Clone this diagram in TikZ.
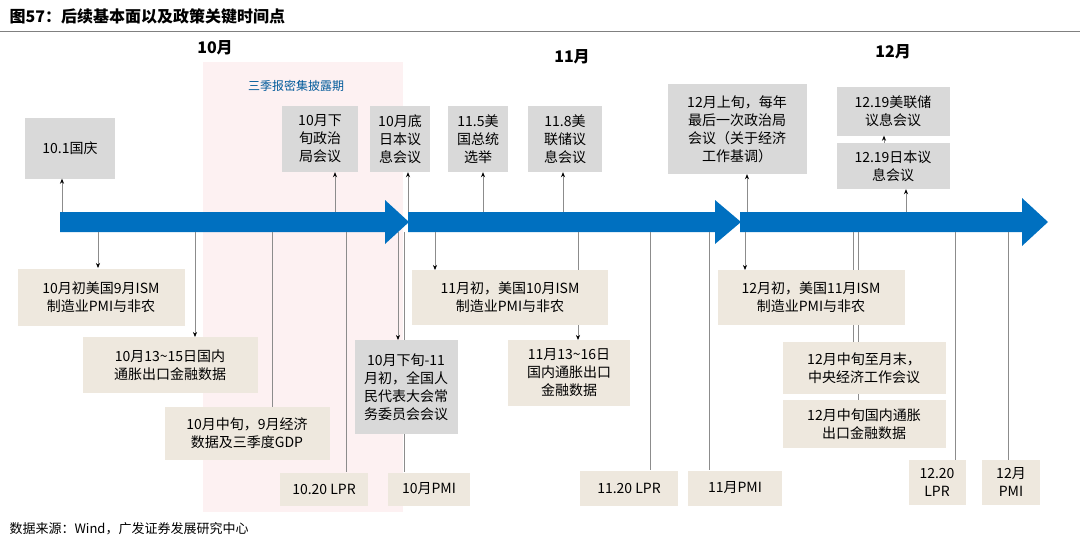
\documentclass[tikz,border=0pt]{standalone}
\usepackage{fontspec}
\setmainfont{Liberation Sans}
\newfontfamily\cjk{Noto Sans CJK SC}
\usetikzlibrary{positioning,arrows.meta}
\definecolor{axisblue}{HTML}{0070C0}
\definecolor{boxgrey}{HTML}{D9D9D9}
\definecolor{boxbeige}{HTML}{EEE8DE}
\definecolor{bandpink}{HTML}{FDF1F2}
\definecolor{linegrey}{HTML}{8C8C8C}
\begin{document}
\begin{tikzpicture}[%
    x=1pt,
    y=-1pt,
    >=stealth,
    ev/.style={%
      fill=boxgrey,
      align=center,
      inner sep=2pt,
      font=\fontsize{14}{18}\selectfont\cjk
    },
    dat/.style={ev, fill=boxbeige},
    link/.style={draw=linegrey, line width=0.6pt},
    tip/.style={link, -{Stealth[black,length=5pt,width=4pt]}}
  ]
    \useasboundingbox (0,0) rectangle (1080,547);
    % title and rule
    \node[anchor=west, font=\fontsize{16}{19}\selectfont\cjk\bfseries] (title) at (6,16) {图57：后续基本面以及政策关键时间点};
    \draw[gray, line width=0.6pt] (0,31) -- (1080,31);
    \node[anchor=west, font=\fontsize{13}{15}\selectfont\cjk] (src) at (6,529) {数据来源：Wind，广发证券发展研究中心};
    % earnings band
    \fill[bandpink] (203,62) rectangle (403,512);
    \node[font=\fontsize{12}{14}\selectfont\cjk, text=axisblue!80!black] (band) at (296,86) {三季报密集披露期};
    % months
    \node[font=\fontsize{16}{19}\selectfont\cjk\bfseries] (m10) at (215,48) {10月};
    \node[font=\fontsize{16}{19}\selectfont\cjk\bfseries] (m11) at (572,57) {11月};
    \node[font=\fontsize{16}{19}\selectfont\cjk\bfseries] (m12) at (893,52) {12月};
    % time axis
    \fill[axisblue] (60,212) -- (385,212) -- (385,200) -- (409,222) -- (385,244) -- (385,232) -- (60,232) -- cycle;
    \fill[axisblue] (408,212) -- (715,212) -- (715,200) -- (741,222) -- (715,244) -- (715,232) -- (408,232) -- cycle;
    \fill[axisblue] (740,212) -- (1022,212) -- (1022,198) -- (1048,222) -- (1022,246) -- (1022,232) -- (740,232) -- cycle;
    \coordinate (top) at (0,212);
    \coordinate (bot) at (0,232);
    % connectors down (drawn first, boxes cover them)
    \draw[tip] (bot -| 98,0) -- (98,268);
    \draw[tip] (bot -| 195,0) -- (195,337);
    \draw[link] (bot -| 272,0) -- (272,407);
    \draw[link] (bot -| 346,0) -- (346,472);
    \draw[tip] (bot -| 398,0) -- (398,340);
    \draw[link] (bot -| 404,0) -- (404,472);
    \draw[tip] (bot -| 435,0) -- (435,270);
    \draw[tip] (bot -| 578,0) -- (578,340);
    \draw[link] (bot -| 650,0) -- (650,470);
    \draw[link] (bot -| 709,0) -- (709,470);
    \draw[tip] (bot -| 745,0) -- (745,270);
    \draw[link] (bot -| 853,0) -- (853,342);
    \draw[link] (bot -| 858,0) -- (858,342);
    \draw[link] (858,394) -- (858,400);
    \draw[link] (bot -| 955,0) -- (955,460);
    \draw[link] (bot -| 1008,0) -- (1008,460);
    % events above
    \node[ev, minimum width=90, minimum height=61] (e1) at (70,148) {10.1国庆};
    \node[ev, minimum width=76, minimum height=66] (e2) at (320,139) {10月下\\旬政治\\局会议};
    \node[ev, minimum width=60, minimum height=66] (e3) at (400,139) {10月底\\日本议\\息会议};
    \node[ev, minimum width=60, minimum height=66] (e4) at (478,139) {11.5美\\国总统\\选举};
    \node[ev, minimum width=74, minimum height=66] (e5) at (565,139) {11.8美\\联储议\\息会议};
    \node[ev, minimum width=139, minimum height=90] (e6) at (737,129) {12月上旬，每年\\最后一次政治局\\会议（关于经济\\工作基调）};
    \node[ev, minimum width=113, minimum height=49] (e7) at (893,111) {12.19美联储\\议息会议};
    \node[ev, minimum width=113, minimum height=46] (e8) at (893,166) {12.19日本议\\息会议};
    % data below
    \node[dat, minimum width=167, minimum height=57] (d1) at (101,297) {10月初美国9月ISM\\制造业PMI与非农};
    \node[dat, minimum width=175, minimum height=56] (d2) at (170,365) {10月13\textasciitilde15日国内\\通胀出口金融数据};
    \node[dat, minimum width=165, minimum height=53] (d3) at (247,433) {10月中旬，9月经济\\数据及三季度GDP};
    \node[dat, minimum width=88, minimum height=33] (d4) at (324,489) {10.20 LPR};
    \node[ev, minimum width=103, minimum height=94] (d5) at (406,387) {10月下旬-11\\月初，全国人\\民代表大会常\\务委员会会议};
    \node[dat, minimum width=82, minimum height=33] (d6) at (429,489) {10月PMI};
    \node[dat, minimum width=196, minimum height=55] (d7) at (510,297) {11月初，美国10月ISM\\制造业PMI与非农};
    \node[dat, minimum width=122, minimum height=66] (d8) at (569,373) {11月13\textasciitilde16日\\国内通胀出口\\金融数据};
    \node[dat, minimum width=98, minimum height=35] (d9) at (629,488) {11.20 LPR};
    \node[dat, minimum width=94, minimum height=35] (d10) at (735,488) {11月PMI};
    \node[dat, minimum width=187, minimum height=55] (d11) at (811,297) {12月初，美国11月ISM\\制造业PMI与非农};
    \node[dat, minimum width=163, minimum height=52] (d12) at (864,368) {12月中旬至月末，\\中央经济工作会议};
    \node[dat, minimum width=163, minimum height=48] (d13) at (864,424) {12月中旬国内通胀\\出口金融数据};
    \node[dat, minimum width=57, minimum height=45] (d14) at (937,482) {12.20\\LPR};
    \node[dat, minimum width=58, minimum height=45] (d15) at (1011,482) {12月\\PMI};
    % connectors up
    \draw[tip] (top -| 62,0) -- (e1.south -| 62,0);
    \draw[tip] (top -| 335,0) -- (e2.south -| 335,0);
    \draw[tip] (top -| 408,0) -- (e3.south -| 408,0);
    \draw[tip] (top -| 483,0) -- (e4.south -| 483,0);
    \draw[tip] (top -| 563,0) -- (e5.south -| 563,0);
    \draw[tip] (top -| 747,0) -- (e6.south -| 747,0);
    \draw[tip] (e8.north -| 884,0) -- (e7.south -| 884,0);
    \draw[tip] (top -| 906,0) -- (e8.south -| 906,0);
  \end{tikzpicture}
\end{document}
